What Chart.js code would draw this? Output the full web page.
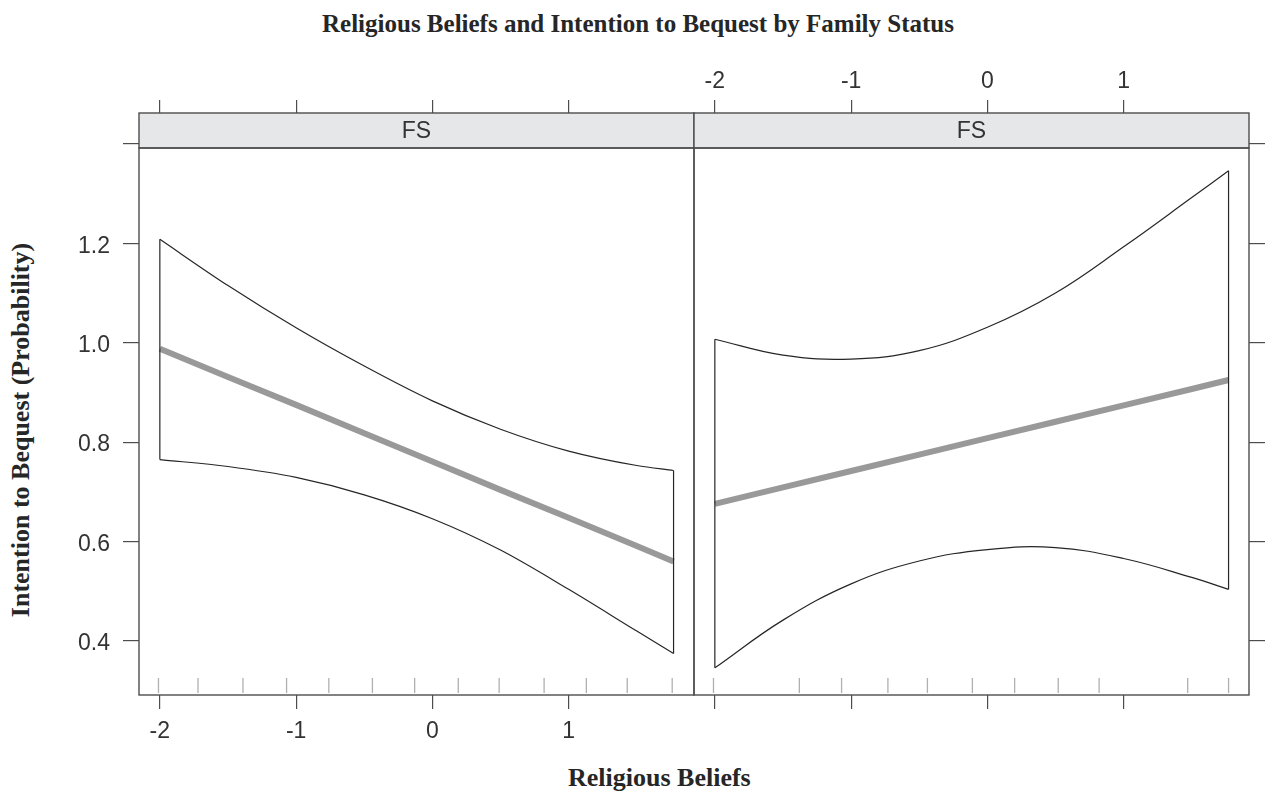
<!DOCTYPE html>
<html>
<head>
<meta charset="utf-8">
<script src="https://cdn.jsdelivr.net/npm/chart.js@4.4.1/dist/chart.umd.min.js"></script>
<style>
html,body{margin:0;padding:0;background:#fff;width:1274px;height:796px;overflow:hidden;position:relative}
canvas{position:absolute;top:0}
#cL{left:0}
#cR{left:684px}
.t{position:absolute;font-family:"Liberation Serif","Times New Roman",serif;font-weight:bold;color:#262626;white-space:nowrap}
#title{left:0;width:1276px;text-align:center;top:11px;font-size:25px;line-height:25px}
#xt{left:568px;top:765px;font-size:26px;line-height:26px}
#yt{left:21px;top:430px;font-size:26px;line-height:26px;transform:translate(-50%,-50%) rotate(-90deg)}
</style>
</head>
<body>
<div class="t" id="title">Religious Beliefs and Intention to Bequest by Family Status</div>
<div class="t" id="xt">Religious Beliefs</div>
<div class="t" id="yt">Intention to Bequest (Probability)</div>
<canvas id="cL" width="704" height="796"></canvas>
<canvas id="cR" width="590" height="796"></canvas>
<script>
// ---- data ----
const xTicks = [-2, -1, 0, 1];
const xTickLabels = ['-2', '-1', '0', '1'];
const yTicks = [0.4, 0.6, 0.8, 1.0, 1.2, 1.4];
const yTickLabels = ['0.4', '0.6', '0.8', '1.0', '1.2', ''];
const panelLabels = ['FS', 'FS'];

const beliefGrid = [-2, -1.5, -1, -0.5, 0, 0.5, 1, 1.5, 1.77];

const fitLeft   = [0.988, 0.931, 0.875, 0.818, 0.761, 0.704, 0.648, 0.591, 0.560];
const upperLeft = [1.208, 1.115, 1.030, 0.953, 0.883, 0.826, 0.782, 0.753, 0.743];
const lowerLeft = [0.765, 0.751, 0.729, 0.694, 0.646, 0.583, 0.504, 0.420, 0.375];

const fitRight   = [0.676, 0.709, 0.742, 0.775, 0.808, 0.841, 0.874, 0.907, 0.925];
const upperRight = [1.007, 0.975, 0.967, 0.984, 1.031, 1.100, 1.193, 1.292, 1.346];
const lowerRight = [0.346, 0.442, 0.515, 0.561, 0.584, 0.588, 0.566, 0.528, 0.504];

const rugLeft  = [-2.01, -1.72, -1.39, -1.07, -0.76, -0.44, -0.13, 0.19, 0.49, 0.82, 1.13, 1.43, 1.76];
const rugRight = [-2.01, -1.38, -1.07, -0.73, -0.44, -0.11, 0.20, 0.52, 0.82, 1.47, 1.77];

const xMin = -2.153, xMax = 1.92;
const yMin = 0.2914, yMax = 1.3917;

// ---- styling ----
const TICK_FONT = {family: '"Liberation Sans Narrow", "Liberation Sans", Arial, sans-serif', size: 23};
const TICK_COL = '#333333';
const AXIS_COL = '#4d4d4d';

const pts = (xs, ys) => xs.map((x, i) => ({x: x, y: ys[i]}));

function makeDatasets(fit, up, lo, mono) {
  const n = beliefGrid.length - 1;
  const band = {borderColor: '#262626', borderWidth: 1.2, pointRadius: 0, fill: false, xAxisID: 'x', yAxisID: 'y'};
  const curve = mono ? {cubicInterpolationMode: 'monotone'} : {tension: 0.4};
  return [
    Object.assign({}, band, curve, {data: pts(beliefGrid, up)}),
    Object.assign({}, band, curve, {data: pts(beliefGrid, lo)}),
    Object.assign({}, band, {data: [{x: beliefGrid[0], y: lo[0]}, {x: beliefGrid[0], y: up[0]}], tension: 0}),
    Object.assign({}, band, {data: [{x: beliefGrid[n], y: lo[n]}, {x: beliefGrid[n], y: up[n]}], tension: 0}),
    {data: pts(beliefGrid, fit), borderColor: '#999999', borderWidth: 6, pointRadius: 0, tension: 0, fill: false,
     borderCapStyle: 'butt', xAxisID: 'x', yAxisID: 'y'}
  ];
}

const panelPlugin = {
  id: 'panel',
  afterDraw(chart, args, opts) {
    const ctx = chart.ctx, a = chart.chartArea;
    const xs = chart.scales.x, st = chart.scales.strip;
    ctx.save();
    // rug
    ctx.strokeStyle = '#b0b0b0';
    ctx.lineWidth = 1.3;
    opts.rug.forEach(v => {
      const px = xs.getPixelForValue(v);
      ctx.beginPath();
      ctx.moveTo(px, a.bottom - 2);
      ctx.lineTo(px, a.bottom - 17);
      ctx.stroke();
    });
    // strip
    ctx.fillStyle = '#e6e7e8';
    ctx.fillRect(a.left, st.top, a.right - a.left, st.bottom - st.top);
    ctx.strokeStyle = AXIS_COL;
    ctx.lineWidth = 1.4;
    ctx.strokeRect(a.left, st.top, a.right - a.left, st.bottom - st.top);
    ctx.strokeRect(a.left, a.top, a.right - a.left, a.bottom - a.top);
    ctx.fillStyle = TICK_COL;
    ctx.font = TICK_FONT.size + 'px ' + TICK_FONT.family;
    ctx.textAlign = 'center';
    ctx.textBaseline = 'middle';
    ctx.fillText(opts.label, (a.left + a.right) / 2, (st.top + st.bottom) / 2 + 1);
    ctx.restore();
  }
};

function setTicks(list) { return s => { s.ticks = list.map(v => ({value: v})); }; }

function scales(isLeft) {
  const gridOpts = (len) => ({drawOnChartArea: false, drawTicks: true, tickLength: len,
                               tickColor: AXIS_COL, tickWidth: 1.2, lineWidth: 1.2, color: AXIS_COL});
  return {
    x: {type: 'linear', position: 'bottom', min: xMin, max: xMax, bounds: 'data',
        afterBuildTicks: setTicks(xTicks), afterFit: s => { s.height = 101; },
        grid: gridOpts(14), border: {display: false},
        ticks: {display: isLeft, autoSkip: false, maxRotation: 0, padding: 9, color: TICK_COL, font: TICK_FONT,
                callback: (v, i) => xTickLabels[i]}},
    strip: {type: 'linear', position: 'top', weight: 0, min: 0, max: 1,
        afterFit: s => { s.height = 35; },
        grid: {display: false}, border: {display: false}, ticks: {display: false}},
    xTop: {type: 'linear', position: 'top', weight: 1, min: xMin, max: xMax, bounds: 'data',
        afterBuildTicks: setTicks(xTicks), afterFit: s => { s.height = 113; },
        grid: gridOpts(13), border: {display: false},
        ticks: {display: !isLeft, autoSkip: false, maxRotation: 0, padding: 5, color: TICK_COL, font: TICK_FONT,
                callback: (v, i) => xTickLabels[i]}},
    y: {type: 'linear', position: isLeft ? 'left' : 'right', min: yMin, max: yMax, bounds: 'data',
        afterBuildTicks: setTicks(yTicks), afterFit: s => { s.width = isLeft ? 139 : 25; },
        grid: gridOpts(16), border: {display: false},
        ticks: {display: isLeft, autoSkip: false, padding: 13, labelOffset: 3, color: TICK_COL, font: TICK_FONT,
                callback: (v, i) => yTickLabels[i]}}
  };
}

function makeChart(id, isLeft, fit, up, lo, rug, label) {
  return new Chart(document.getElementById(id), {
    type: 'line',
    data: {datasets: makeDatasets(fit, up, lo, isLeft)},
    options: {
      responsive: false, animation: false, events: [],
      layout: {padding: isLeft ? {right: 10} : {left: 10}},
      plugins: {legend: {display: false}, tooltip: {enabled: false}, title: {display: false},
                panel: {rug: rug, label: label}},
      scales: scales(isLeft)
    },
    plugins: [panelPlugin]
  });
}

makeChart('cL', true, fitLeft, upperLeft, lowerLeft, rugLeft, panelLabels[0]);
makeChart('cR', false, fitRight, upperRight, lowerRight, rugRight, panelLabels[1]);
</script>
</body>
</html>
